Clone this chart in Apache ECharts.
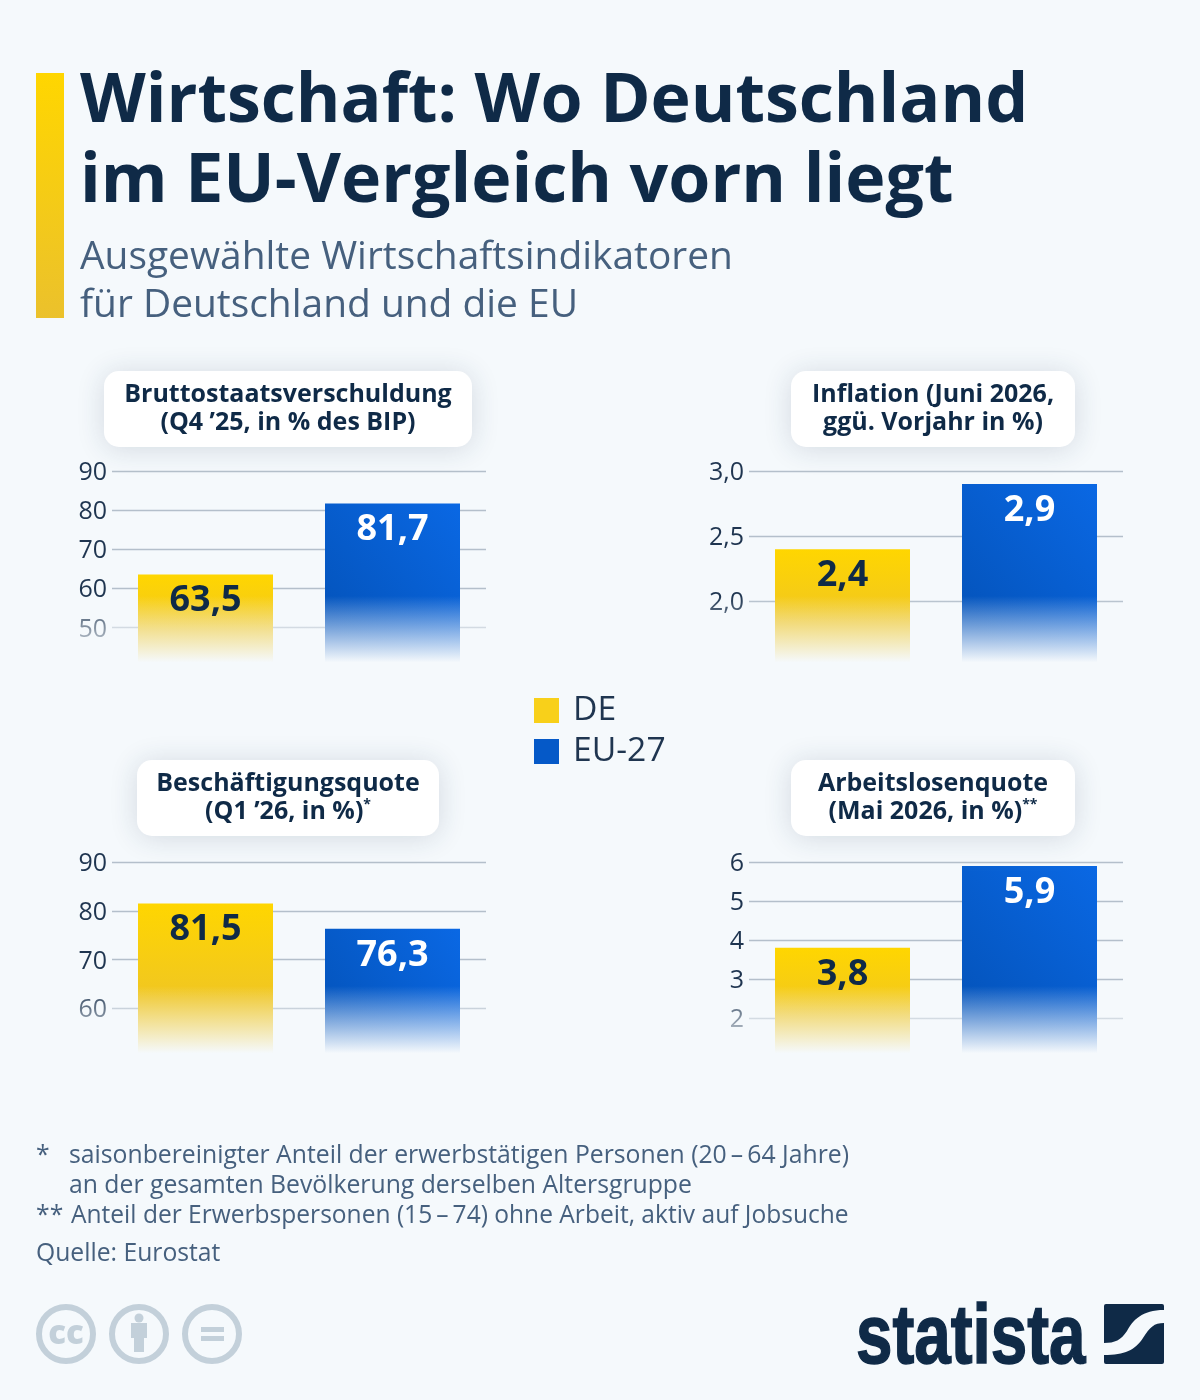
<!DOCTYPE html>
<html><head><meta charset="utf-8">
<style>html,body{margin:0;padding:0;background:#F5F9FC}#c{width:1200px;height:1400px}</style>
<script src="https://cdn.jsdelivr.net/npm/echarts@6/dist/echarts.min.js"></script>
</head><body><div id="c"></div>
<script>
const seriesNames = ['DE', 'EU-27'];
const debtValues = [63.5, 81.7];
const inflationValues = [2.4, 2.9];
const employmentValues = [81.5, 76.3];
const unemploymentValues = [3.8, 5.9];
const debtTicks = [40, 90, 10];
const inflationTicks = [1.5, 3, 0.5];
const employmentTicks = [50, 90, 10];
const unemploymentTicks = [1, 6, 1];
const titleLines = ['Wirtschaft: Wo Deutschland', 'im EU-Vergleich vorn liegt'];
const subtitleLines = ['Ausgewählte Wirtschaftsindikatoren', 'für Deutschland und die EU'];
const footnotes = [
  ['*', 'saisonbereinigter Anteil der erwerbstätigen Personen (20\u2009–\u200964 Jahre)'],
  ['', 'an der gesamten Bevölkerung derselben Altersgruppe'],
  ['**', 'Anteil der Erwerbspersonen (15\u2009–\u200974) ohne Arbeit, aktiv auf Jobsuche']
];
const sourceText = 'Quelle: Eurostat';

const FONT = '"Open Sans", sans-serif';
const BG = '#F5F9FC', NAVY = '#0F2A47', SLATE = '#46607E', ICON = '#C3D0DA';
const grad = (x, y, x2, y2, a, b) => new echarts.graphic.LinearGradient(x, y, x2, y2, [{offset: 0, color: a}, {offset: 1, color: b}]);
const yellowFill = () => grad(0, 0, 0, 0.62, '#FFD600', '#F0C622');
const blueFill = () => grad(1, 0, 0, 0.7, '#0A68E4', '#0454BC');

echarts.graphic.registerShape('personIcon', echarts.graphic.extendPath('M131 1323 L147 1323 L147 1338 L144 1338 L144 1352 L134 1352 L134 1338 L131 1338 Z', {}));
echarts.graphic.registerShape('swooshIcon', echarts.graphic.extendPath('M1164 1310 C1142 1310 1133 1320 1127 1331 C1121 1340 1115 1343 1104 1343 L1104 1355 C1125 1355 1135 1350 1143 1338 C1150 1327 1154 1323 1164 1323 Z', {}));

const panels = [
  {values: debtValues, ticks: debtTicks, grid: {left: 112, top: 471, width: 374, height: 195.5}, dec: 0,
   card: [104, 371, 368, 76], lines: ['Bruttostaatsverschuldung', '(Q4 ’25, in % des BIP)'], fade: [596, 662]},
  {values: inflationValues, ticks: inflationTicks, grid: {left: 749, top: 471, width: 374, height: 195.5}, dec: 1,
   card: [791, 371, 284, 76], lines: ['Inflation (Juni 2026,', 'ggü. Vorjahr in %)'], fade: [596, 662]},
  {values: employmentValues, ticks: employmentTicks, grid: {left: 112, top: 862, width: 374, height: 195}, dec: 0,
   card: [137, 760, 302, 76], lines: ['Beschäftigungsquote', '(Q1 ’26, in %){s|*}'], fade: [986, 1053]},
  {values: unemploymentValues, ticks: unemploymentTicks, grid: {left: 749, top: 862, width: 374, height: 195}, dec: 0,
   card: [791, 760, 284, 76], lines: ['Arbeitslosenquote', '(Mai 2026, in %){s|**}'], fade: [986, 1053]}
];

const grids = [], xAxes = [], yAxes = [], series = [], graphic = [];
const deNum = v => v.toFixed(1).replace('.', ',');

panels.forEach((p, i) => {
  grids.push(Object.assign({containLabel: false}, p.grid));
  xAxes.push({type: 'category', gridIndex: i, data: seriesNames, axisLine: {show: false}, axisTick: {show: false}, axisLabel: {show: false}});
  yAxes.push({type: 'value', gridIndex: i, min: p.ticks[0], max: p.ticks[1], interval: p.ticks[2],
    axisLine: {show: false}, axisTick: {show: false},
    splitLine: {show: true, lineStyle: {color: '#B4BFCB', width: 1.3}, showMinLine: false},
    axisLabel: {show: true, showMinLabel: false, margin: 5, verticalAlign: 'top', lineHeight: 4, fontFamily: FONT, fontSize: 25, color: '#1F3550',
      formatter: v => p.dec ? v.toFixed(p.dec).replace('.', ',') : String(v)}});
  seriesNames.forEach((name, s) => {
    const data = p.values.map((v, k) => k === s ? v : null);
    series.push({type: 'bar', name, xAxisIndex: i, yAxisIndex: i, data, barWidth: 135, barGap: '-100%', z: 2, silent: true,
      itemStyle: {color: s === 0 ? yellowFill() : blueFill()}});
    series.push({type: 'bar', name: name + ' Wert', xAxisIndex: i, yAxisIndex: i, data, barWidth: 135, barGap: '-100%', z: 60, silent: true,
      itemStyle: {color: 'transparent'},
      label: {show: true, position: 'insideTop', distance: 8.5, fontFamily: FONT, fontWeight: 700, fontSize: 36,
        color: s === 0 ? NAVY : '#FFFFFF', formatter: o => o.value == null ? '' : deNum(o.value)}});
  });
  // fade of the lower part of each panel into the page background
  const fadeLeft = i % 2 ? 703 : 66;
  graphic.push({type: 'rect', z: 50, silent: true,
    shape: {x: fadeLeft, y: p.fade[0], width: 430, height: p.fade[1] - p.fade[0] + 12},
    style: {fill: grad(0, 0, 0, 0.85, 'rgba(245,249,252,0)', BG)}});
  // cards
  const [cx, cy, cw, ch] = p.card;
  graphic.push({type: 'rect', z: 70, silent: true, shape: {x: cx, y: cy, width: cw, height: ch, r: 15},
    style: {fill: '#FFFFFF', shadowColor: 'rgba(30,60,90,0.17)', shadowBlur: 28, shadowOffsetY: 2}});
  graphic.push({type: 'text', z: 71, silent: true, x: cx + cw / 2, y: cy + ch / 2,
    style: {text: p.lines.map(l => l.includes('{s|') ? '{t|' + l.replace('{s|', '}{s|') : '{t|' + l + '}').join('\n'),
      align: 'center', verticalAlign: 'middle', fill: NAVY,
      rich: {t: {fontFamily: FONT, fontWeight: 700, fontSize: 25, lineHeight: 28, fill: NAVY},
             s: {fontFamily: FONT, fontWeight: 700, fontSize: 14, lineHeight: 28, fill: NAVY, verticalAlign: 'top'}}}});
});

// heading accent
graphic.push({type: 'rect', z: 80, silent: true, shape: {x: 36, y: 73, width: 28, height: 245},
  style: {fill: grad(0, 0, 0, 1, '#FFD600', '#EBC12C')}});
titleLines.forEach((t, i) => graphic.push({type: 'text', z: 80, silent: true, x: 80, y: 102.5 + i * 80,
  style: {text: t, font: `700 68.05px ${FONT}`, fill: NAVY, verticalAlign: 'middle'}}));
subtitleLines.forEach((t, i) => graphic.push({type: 'text', z: 80, silent: true, x: 80, y: 258 + i * 47.5,
  style: {text: t, font: `400 38.9px ${FONT}`, fill: SLATE, verticalAlign: 'middle'}}));
// footnotes
footnotes.forEach((f, i) => {
  const y = 1156 + i * 30;
  if (f[0]) graphic.push({type: 'text', z: 80, silent: true, x: 36, y, style: {text: f[0], font: `400 24.75px ${FONT}`, fill: SLATE, verticalAlign: 'middle'}});
  graphic.push({type: 'text', z: 80, silent: true, x: i === 2 ? 71 : 69, y, style: {text: f[1], font: `400 ${i === 2 ? 24.55 : 24.75}px ${FONT}`, fill: SLATE, verticalAlign: 'middle'}});
});
graphic.push({type: 'text', z: 80, silent: true, x: 36, y: 1254, style: {text: sourceText, font: `400 24.7px ${FONT}`, fill: SLATE, verticalAlign: 'middle'}});
// licence icons
[66, 139, 212].forEach(cx => graphic.push({type: 'circle', z: 80, silent: true, shape: {cx, cy: 1334, r: 27}, style: {fill: 'none', stroke: ICON, lineWidth: 6}}));
graphic.push({type: 'text', z: 80, silent: true, x: 66, y: 1335, style: {text: 'cc', font: `800 33px ${FONT}`, fill: ICON, align: 'center', verticalAlign: 'middle'}});
graphic.push({type: 'circle', z: 80, silent: true, shape: {cx: 139, cy: 1318, r: 4.5}, style: {fill: ICON}});
graphic.push({type: 'personIcon', z: 80, silent: true, style: {fill: ICON}});
graphic.push({type: 'rect', z: 80, silent: true, shape: {x: 201, y: 1327, width: 23, height: 5}, style: {fill: ICON}});
graphic.push({type: 'rect', z: 80, silent: true, shape: {x: 201, y: 1336, width: 23, height: 5}, style: {fill: ICON}});
// statista logo
graphic.push({type: 'text', z: 80, silent: true, x: 856, y: 1381.5, scaleX: 0.79,
  style: {text: 'statista', font: `700 83px "Liberation Sans"`, fill: NAVY, stroke: NAVY, lineWidth: 1.5, verticalAlign: 'bottom'}});
graphic.push({type: 'rect', z: 80, silent: true, shape: {x: 1104, y: 1304, width: 60, height: 60, r: 2}, style: {fill: NAVY}});
graphic.push({type: 'swooshIcon', z: 81, silent: true, style: {fill: BG}});

const chart = echarts.init(document.getElementById('c'), null, {renderer: 'canvas', width: 1200, height: 1400});
chart.setOption({
  animation: false, backgroundColor: BG, grid: grids, xAxis: xAxes, yAxis: yAxes, series, graphic,
  legend: {show: true, orient: 'vertical', left: 529, top: 688.5, itemWidth: 25, itemHeight: 25, itemGap: 7, selectedMode: false,
    textStyle: {fontFamily: FONT, fontSize: 33.7, color: '#1F3550', padding: [0, 0, 0, 9]},
    data: [{name: 'DE', icon: 'rect', itemStyle: {color: '#F8D01A'}}, {name: 'EU-27', icon: 'rect', itemStyle: {color: '#0559C8'}}]}
});
</script></body></html>
